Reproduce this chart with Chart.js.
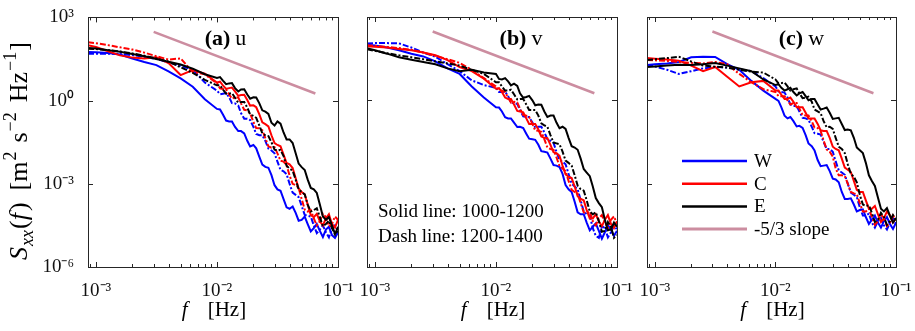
<!DOCTYPE html>
<html><head><meta charset="utf-8">
<script src="https://cdn.jsdelivr.net/npm/chart.js@4/dist/chart.umd.min.js"></script>
<style>
html,body{margin:0;padding:0;background:#fff;width:915px;height:331px;overflow:hidden;position:relative}
.wrap{position:absolute;top:0;height:331px}
canvas{display:block}
</style></head><body>
<div class="wrap" style="left:0px"><canvas id="ca" width="364" height="331"></canvas></div>
<div class="wrap" style="left:340px"><canvas id="cb" width="303" height="331"></canvas></div>
<div class="wrap" style="left:620px"><canvas id="cc" width="305" height="331"></canvas></div>
<script>
// ---------------- data ----------------
const freqHz = [0.00086, 0.001, 0.00126, 0.00158, 0.002, 0.00251, 0.00316, 0.00398, 0.00501, 0.00631, 0.00794,
  0.01, 0.0106, 0.0112, 0.0119, 0.0126, 0.0133, 0.0141, 0.015, 0.0158, 0.0168, 0.0178, 0.0188, 0.02, 0.0211, 0.0224, 0.0237,
  0.0251, 0.0266, 0.0282, 0.0299, 0.0316, 0.0335, 0.0355, 0.0376, 0.0398, 0.0422, 0.0447, 0.0473, 0.0501, 0.0531, 0.0562,
  0.0596, 0.0631, 0.0668, 0.0708, 0.075, 0.0794, 0.0841, 0.0891, 0.0944, 0.1];

// spectra, stored as log10 of S_xx [m^2 s^-2 Hz^-1]
// (a) u
const u_W_solid = [1.75,1.74,1.72,1.66,1.52,1.39,1.28,1.05,0.80,0.50,0.05,
  -0.30,-0.32,-0.50,-0.72,-0.75,-0.75,-0.95,-1.10,-1.10,-1.18,-1.45,-1.65,-1.60,-1.72,-2.03,-2.31,-2.39,-2.42,-2.69,-3.05,
  -3.20,-3.25,-3.55,-3.85,-3.90,-3.82,-4.05,-4.33,-4.30,-4.18,-4.45,-4.72,-4.60,-4.45,-4.70,-4.92,-4.65,-4.55,-4.85,-4.95,-4.75];
const u_W_dash  = [1.69,1.69,1.69,1.68,1.64,1.58,1.50,1.38,1.25,1.12,0.65,
  0.36,0.23,0.25,0.27,0.12,-0.09,-0.10,-0.18,-0.45,-0.65,-0.65,-0.70,-0.95,-1.20,-1.25,-1.25,-1.45,-1.73,-1.80,-1.90,
  -2.20,-2.50,-2.55,-2.65,-3.00,-3.32,-3.40,-3.48,-3.80,-4.12,-4.15,-4.18,-4.50,-4.78,-4.65,-4.50,-4.75,-4.93,-4.60,-4.50,-4.70];
const u_C_solid = [2.00,1.93,1.78,1.63,1.55,1.52,1.56,1.35,0.92,1.10,0.97,
  0.65,0.68,0.55,0.42,0.45,0.47,0.33,0.17,0.20,0.21,0.02,-0.18,-0.17,-0.24,-0.50,-0.78,-0.85,-0.93,-1.25,-1.53,
  -1.60,-1.65,-1.95,-2.25,-2.30,-2.43,-2.80,-3.17,-3.30,-3.38,-3.75,-4.13,-4.20,-4.08,-4.35,-4.50,-4.25,-4.10,-4.45,-4.58,-4.30];
const u_C_dash  = [2.10,2.07,2.00,1.92,1.84,1.73,1.60,1.48,1.52,1.03,0.95,
  0.62,0.44,0.42,0.40,0.22,0.07,0.12,0.11,-0.10,-0.33,-0.35,-0.46,-0.77,-0.99,-1.00,-1.07,-1.35,-1.65,-1.70,-1.68,
  -1.90,-2.17,-2.20,-2.33,-2.70,-3.00,-3.05,-3.15,-3.55,-3.93,-4.00,-3.95,-4.25,-4.50,-4.35,-4.08,-4.20,-4.53,-4.45,-4.18,-4.30];
const u_E_solid = [1.90,1.88,1.82,1.76,1.68,1.60,1.50,1.40,1.30,1.15,0.95,
  0.82,0.85,0.72,0.59,0.62,0.63,0.45,0.33,0.40,0.41,0.22,0.07,0.12,0.11,-0.10,-0.35,-0.40,-0.48,-0.80,-0.90,
  -0.75,-0.83,-1.15,-1.40,-1.40,-1.53,-1.90,-2.27,-2.40,-2.50,-2.85,-3.15,-3.20,-3.33,-3.75,-4.18,-4.30,-4.20,-4.50,-4.80,-4.70];
const u_E_dash  = [1.87,1.86,1.82,1.77,1.70,1.62,1.52,1.40,1.20,1.00,0.75,
  0.55,0.55,0.40,0.25,0.25,0.27,0.10,-0.08,-0.05,-0.05,-0.25,-0.50,-0.55,-0.62,-0.90,-1.18,-1.25,-1.28,-1.50,-1.77,
  -1.80,-1.78,-2.00,-2.35,-2.45,-2.53,-2.85,-3.20,-3.30,-3.38,-3.75,-4.00,-3.95,-3.88,-4.20,-4.53,-4.45,-4.33,-4.60,-4.83,-4.55];
// (b) v
const v_W_solid = [2.00,1.97,1.90,1.80,1.68,1.58,1.40,1.15,0.95,0.50,0.10,
  -0.25,-0.26,-0.40,-0.61,-0.65,-0.65,-0.80,-0.96,-0.95,-1.00,-1.20,-1.38,-1.40,-1.42,-1.60,-1.83,-1.85,-1.88,-2.10,-2.33,
  -2.35,-2.40,-2.65,-3.05,-3.20,-3.30,-3.65,-4.03,-4.10,-4.10,-4.40,-4.68,-4.55,-4.43,-4.70,-4.98,-4.75,-4.50,-4.65,-4.88,-4.70];
const v_W_dash  = [2.05,2.06,2.06,2.05,1.90,1.72,1.57,1.30,1.05,0.72,0.55,
  0.45,0.30,0.30,0.31,0.15,-0.08,-0.10,-0.13,-0.35,-0.58,-0.60,-0.60,-0.80,-0.98,-0.95,-0.95,-1.15,-1.40,-1.45,-1.53,
  -1.85,-2.15,-2.20,-2.30,-2.65,-3.00,-3.10,-3.20,-3.60,-4.00,-4.10,-4.15,-4.60,-4.88,-4.95,-4.53,-4.60,-4.93,-4.75,-4.50,-4.65];
const v_C_solid = [1.95,1.93,1.90,1.85,1.80,1.72,1.62,1.45,1.20,1.05,0.78,
  0.42,0.44,0.30,0.10,0.05,0.05,-0.15,-0.38,-0.40,-0.43,-0.65,-0.85,-0.85,-0.85,-1.05,-1.30,-1.35,-1.36,-1.60,-1.87,
  -1.90,-2.00,-2.35,-2.67,-2.75,-2.80,-3.10,-3.45,-3.55,-3.60,-3.95,-4.25,-4.25,-4.10,-4.35,-4.53,-4.30,-4.13,-4.45,-4.60,-4.35];
const v_C_dash  = [1.98,1.96,1.92,1.88,1.82,1.72,1.60,1.48,1.35,1.10,0.80,
  0.50,0.35,0.35,0.30,0.10,-0.08,-0.05,-0.08,-0.30,-0.53,-0.55,-0.60,-0.85,-1.08,-1.10,-1.13,-1.40,-1.70,-1.75,-1.78,
  -2.05,-2.37,-2.45,-2.55,-2.90,-3.22,-3.30,-3.35,-3.70,-4.03,-4.05,-4.00,-4.35,-4.50,-4.25,-4.13,-4.40,-4.60,-4.30,-4.18,-4.45];
const v_E_solid = [1.88,1.80,1.68,1.55,1.46,1.38,1.30,1.15,1.05,1.10,1.00,
  0.95,0.77,0.75,0.80,0.68,0.54,0.60,0.52,0.25,0.09,0.12,0.16,0.00,-0.18,-0.15,-0.16,-0.40,-0.60,-0.55,-0.55,
  -0.80,-1.00,-0.95,-1.03,-1.35,-1.65,-1.70,-1.78,-2.10,-2.47,-2.60,-2.73,-3.10,-3.52,-3.70,-3.85,-4.30,-4.68,-4.65,-4.40,-4.55];
const v_E_dash  = [1.84,1.78,1.70,1.62,1.55,1.48,1.40,1.33,1.25,1.10,0.95,
  0.65,0.65,0.50,0.35,0.35,0.38,0.22,0.03,0.05,0.05,-0.15,-0.35,-0.35,-0.35,-0.55,-0.83,-0.90,-0.95,-1.25,-1.52,
  -1.55,-1.58,-1.85,-2.17,-2.25,-2.35,-2.70,-3.07,-3.20,-3.25,-3.60,-4.00,-4.10,-4.03,-4.35,-4.73,-4.70,-4.38,-4.55,-4.95,-4.85];
// (c) w
const w_W_solid = [1.27,1.30,1.33,1.38,1.55,1.57,1.56,1.30,1.10,0.70,0.35,
  0.05,-0.02,-0.25,-0.55,-0.65,-0.60,-0.75,-0.94,-0.92,-0.99,-1.25,-1.55,-1.65,-1.80,-2.15,-2.37,-2.35,-2.33,-2.55,-2.82,
  -2.85,-2.95,-3.30,-3.55,-3.55,-3.53,-3.75,-4.00,-3.95,-3.93,-4.20,-4.45,-4.30,-4.15,-4.40,-4.58,-4.35,-4.20,-4.45,-4.63,-4.40];
const w_W_dash  = [1.27,1.22,1.10,0.95,1.05,1.15,1.20,1.18,1.12,1.05,0.80,
  0.50,0.32,0.30,0.28,0.10,-0.15,-0.20,-0.20,-0.40,-0.63,-0.65,-0.70,-0.95,-1.18,-1.20,-1.23,-1.50,-1.75,-1.75,-1.85,
  -2.20,-2.52,-2.60,-2.68,-3.00,-3.32,-3.40,-3.48,-3.85,-4.15,-4.15,-4.08,-4.40,-4.58,-4.35,-4.23,-4.50,-4.65,-4.40,-4.23,-4.45];
const w_C_solid = [1.52,1.50,1.47,1.43,1.25,1.05,1.20,0.85,0.50,0.65,0.70,
  0.35,0.35,0.20,0.05,0.05,0.10,-0.05,-0.25,-0.25,-0.25,-0.45,-0.65,-0.65,-0.65,-0.85,-1.08,-1.10,-1.10,-1.35,-1.67,
  -1.75,-1.80,-2.10,-2.42,-2.50,-2.58,-2.90,-3.22,-3.30,-3.30,-3.60,-3.90,-3.90,-3.80,-4.10,-4.38,-4.25,-4.00,-4.15,-4.40,-4.25];
const w_C_dash  = [1.45,1.44,1.42,1.38,1.35,1.33,1.38,1.30,0.95,0.65,0.40,
  0.30,0.15,0.15,0.15,0.00,-0.15,-0.10,-0.10,-0.30,-0.53,-0.55,-0.55,-0.75,-0.98,-1.00,-1.10,-1.45,-1.77,-1.85,-2.03,
  -2.45,-2.70,-2.70,-2.73,-3.00,-3.30,-3.35,-3.38,-3.70,-4.00,-4.00,-3.90,-4.20,-4.48,-4.35,-4.10,-4.25,-4.53,-4.40,-4.15,-4.30];
const w_E_solid = [1.20,1.22,1.25,1.28,1.27,1.30,1.34,1.25,1.15,1.05,0.75,
  0.55,0.58,0.45,0.35,0.40,0.45,0.30,0.18,0.25,0.30,0.15,0.00,0.05,0.05,-0.15,-0.33,-0.30,-0.26,-0.45,-0.67,
  -0.65,-0.63,-0.85,-1.07,-1.05,-1.08,-1.35,-1.70,-1.80,-1.90,-2.25,-2.70,-2.90,-3.08,-3.50,-3.90,-4.00,-3.88,-4.15,-4.40,-4.25];
const w_E_dash  = [1.45,1.48,1.52,1.57,1.40,1.25,1.21,1.18,1.10,1.03,1.00,
  0.75,0.61,0.62,0.64,0.50,0.35,0.40,0.43,0.25,0.08,0.10,0.13,-0.05,-0.33,-0.40,-0.46,-0.75,-0.97,-0.95,-1.03,
  -1.35,-1.67,-1.75,-1.90,-2.30,-2.65,-2.75,-2.95,-3.40,-3.75,-3.80,-3.78,-4.05,-4.38,-4.30,-4.05,-4.20,-4.48,-4.35,-4.13,-4.30];

// -5/3 reference slope line (two end points)
const slopeFreqHz = [0.003, 0.065];
const slopeValues = [300, 1.8];

// axis ticks
const xTickValues = [0.001, 0.01, 0.1];
const xTickLabels = ['10\u207B\u00B3', '10\u207B\u00B2', '10\u207B\u00B9'];
const yTickValues = [1e-6, 1e-3, 1, 1e3];
const yTickLabels = ['10\u207B\u2076', '10\u207B\u00B3', '10\u2070', '10\u00B3'];
const X_MIN = 0.00086, X_MAX = 0.1, Y_MIN = 1e-6, Y_MAX = 1e3;

const legendNames = ['W', 'C', 'E', '-5/3 slope'];
const panelNames = [['(a)', 'u'], ['(b)', 'v'], ['(c)', 'w']];
const noteLines = ['Solid line: 1000-1200', 'Dash line: 1200-1400'];

// ---------------- drawing ----------------
const FONT = "'Liberation Serif','Times New Roman',serif";
const COL = { W: '#0000ff', C: '#ff0000', E: '#000000', slope: '#cc8da0' };
const AXC = '#262626';

function pts(arr) { return freqHz.map((f, i) => ({ x: f, y: Math.pow(10, arr[i]) })); }
function ds(arr, color, dashed) {
  return { data: pts(arr), borderColor: color, borderWidth: 2, borderDash: dashed ? [6, 2, 2, 2] : [], pointRadius: 0, fill: false, tension: 0 };
}

const framePlugin = {
  id: 'frame',
  afterDatasetsDraw(chart) {
    const { ctx, chartArea: a, scales } = chart;
    const xs = scales.x, ys = scales.y;
    ctx.save();
    ctx.strokeStyle = AXC; ctx.lineWidth = 1;
    ctx.strokeRect(Math.round(a.left) + 0.5, Math.round(a.top) + 0.5, Math.round(a.right - a.left), Math.round(a.bottom - a.top));
    ctx.beginPath();
    for (let e = -4; e <= -1; e++) {
      for (let m = 1; m <= 9; m++) {
        const v = m * Math.pow(10, e);
        if (v < X_MIN * 0.999 || v > X_MAX * 1.001) continue;
        const px = Math.round(xs.getPixelForValue(v)) + 0.5;
        const L = m === 1 ? 5 : 3;
        ctx.moveTo(px, a.bottom); ctx.lineTo(px, a.bottom - L);
        ctx.moveTo(px, a.top); ctx.lineTo(px, a.top + L);
      }
    }
    yTickValues.forEach(v => {
      const py = Math.round(ys.getPixelForValue(v)) + 0.5;
      ctx.moveTo(a.left, py); ctx.lineTo(a.left + 5, py);
      ctx.moveTo(a.right, py); ctx.lineTo(a.right - 5, py);
    });
    ctx.stroke();
    ctx.restore();
  }
};

function drawSegments(ctx, segs, x, y, align) {
  let total = 0;
  segs.forEach(s => { ctx.font = s.font; total += ctx.measureText(s.t).width + (s.gap || 0); });
  let cx = align === 'center' ? x - total / 2 : x;
  segs.forEach(s => {
    ctx.font = s.font;
    ctx.fillText(s.t, cx, y + (s.dy || 0));
    cx += ctx.measureText(s.t).width + (s.gap || 0);
  });
}

function makeTextPlugin(idx) {
  return {
    id: 'texts' + idx,
    afterDraw(chart) {
      const { ctx, chartArea: a } = chart;
      const w = a.right - a.left;
      ctx.save();
      ctx.fillStyle = '#000';
      ctx.textBaseline = 'alphabetic';
      ctx.textAlign = 'left';
      const lx = [0.55, 0.616, 0.62][idx];
      drawSegments(ctx, [
        { t: panelNames[idx][0], font: 'bold 22px ' + FONT, gap: 5 },
        { t: panelNames[idx][1], font: '22px ' + FONT }
      ], a.left + lx * w, 45, 'center');
      drawSegments(ctx, [
        { t: 'f', font: 'italic 21px ' + FONT, gap: 20 },
        { t: '[Hz]', font: '21px ' + FONT }
      ], (a.left + a.right) / 2 + 1, 316, 'center');
      if (idx === 0) {
        ctx.translate(27, 151);
        ctx.rotate(-Math.PI / 2);
        const F = 26;
        const n = F + 'px ' + FONT, it = 'italic ' + F + 'px ' + FONT, sm = '18px ' + FONT;
        drawSegments(ctx, [
          { t: 'S', font: it, gap: 1 },
          { t: 'xx', font: 'italic 18px ' + FONT, dy: 6, gap: 1 },
          { t: '(', font: n }, { t: 'f', font: it, gap: 2 }, { t: ')', font: n, gap: 12 },
          { t: '[m', font: n, gap: 1 }, { t: '2', font: sm, dy: -11, gap: 9 },
          { t: 's', font: n, gap: 1 }, { t: '\u22122', font: sm, dy: -11, gap: 10 },
          { t: 'Hz', font: n, gap: 1 }, { t: '\u22121', font: sm, dy: -11, gap: 1 },
          { t: ']', font: n }
        ], 0, 0, 'center');
      }
      if (idx === 1) {
        ctx.font = '19px ' + FONT;
        ctx.fillText(noteLines[0], a.left + 11, 217);
        ctx.fillText(noteLines[1], a.left + 11, 242);
      }
      if (idx === 2) {
        const cols = [COL.W, COL.C, COL.E, COL.slope];
        ctx.font = '19px ' + FONT;
        cols.forEach((c, k) => {
          const y = 161 + k * 22.7;
          ctx.strokeStyle = c; ctx.lineWidth = k === 3 ? 3 : 2.5;
          ctx.beginPath(); ctx.moveTo(a.left + 35, y); ctx.lineTo(a.left + 100, y); ctx.stroke();
          ctx.fillText(legendNames[k], a.left + 107, y + 6);
        });
      }
      ctx.restore();
    }
  };
}

// canvas-relative paddings that put each plot box at the reference position
const PAD = [{ l: 0, r: 26 }, { l: 27, r: 26 }, { l: 27, r: 29 }];

function makeChart(id, idx, S) {
  const datasets = [
    ds(S.E_solid, COL.E, false), ds(S.E_dash, COL.E, true),
    ds(S.C_solid, COL.C, false), ds(S.C_dash, COL.C, true),
    ds(S.W_solid, COL.W, false), ds(S.W_dash, COL.W, true),
    { data: slopeFreqHz.map((f, i) => ({ x: f, y: slopeValues[i] })), borderColor: COL.slope, borderWidth: 2.5, pointRadius: 0, fill: false, tension: 0 }
  ];
  const showY = idx === 0;
  return new Chart(document.getElementById(id), {
    type: 'line',
    data: { datasets },
    plugins: [framePlugin, makeTextPlugin(idx)],
    options: {
      responsive: false, animation: false, parsing: false, normalized: true,
      layout: { padding: { left: PAD[idx].l, right: PAD[idx].r, top: 17, bottom: 0 } },
      plugins: { legend: { display: false }, tooltip: { enabled: false } },
      scales: {
        x: {
          type: 'logarithmic', min: X_MIN, max: X_MAX,
          grid: { display: false }, border: { display: false },
          afterBuildTicks: s => { s.ticks = xTickValues.map(v => ({ value: v })); },
          afterFit: s => { s.height = 64; },
          ticks: { autoSkip: false, maxRotation: 0, minRotation: 0, padding: 5, color: '#111',
            font: { family: FONT, size: 19 }, callback: (v, i) => xTickLabels[i] }
        },
        y: {
          type: 'logarithmic', min: Y_MIN, max: Y_MAX, display: showY,
          grid: { display: false }, border: { display: false },
          afterBuildTicks: s => { s.ticks = yTickValues.map(v => ({ value: v })); },
          afterFit: s => { s.width = showY ? 88 : 0; },
          ticks: { autoSkip: false, padding: 6, color: '#111',
            font: { family: FONT, size: 19 }, callback: (v, i) => yTickLabels[i] }
        }
      }
    }
  });
}

makeChart('ca', 0, { W_solid: u_W_solid, W_dash: u_W_dash, C_solid: u_C_solid, C_dash: u_C_dash, E_solid: u_E_solid, E_dash: u_E_dash });
makeChart('cb', 1, { W_solid: v_W_solid, W_dash: v_W_dash, C_solid: v_C_solid, C_dash: v_C_dash, E_solid: v_E_solid, E_dash: v_E_dash });
makeChart('cc', 2, { W_solid: w_W_solid, W_dash: w_W_dash, C_solid: w_C_solid, C_dash: w_C_dash, E_solid: w_E_solid, E_dash: w_E_dash });
</script>
</body></html>
